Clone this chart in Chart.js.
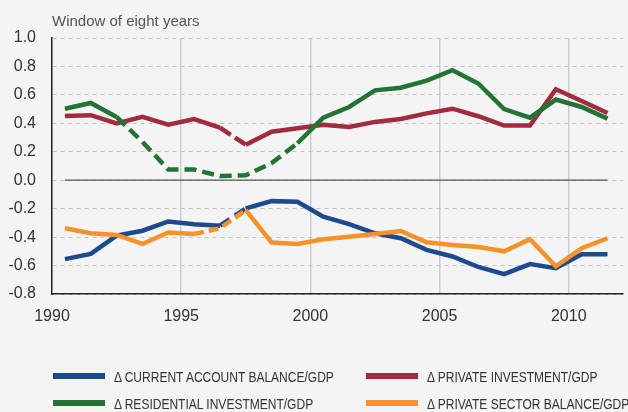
<!DOCTYPE html>
<html>
<head>
<meta charset="utf-8">
<script src="https://cdn.jsdelivr.net/npm/chart.js@4"></script>
<style>
  html, body { margin: 0; padding: 0; background: #f4f4f4; }
  #wrap { position: relative; width: 628px; height: 412px; }
  #chartBox { position: absolute; left: 0; top: 0; width: 628px; height: 330px; }
  #legend { position: absolute; left: 0; top: 0; width: 628px; height: 412px; pointer-events: none; }
  .item { position: absolute; display: flex; align-items: center; height: 20px;
          font-family: 'Liberation Sans', sans-serif;
          font-size: 15.5px; color: #333; white-space: nowrap; }
  .swatch { width: 52px; height: 6px; margin-right: 9px; margin-top: -2px; flex: none; }
  .txt { display: inline-block; transform: scaleX(0.775); transform-origin: left center; }
</style>
</head>
<body>
<div id="wrap">
  <div id="chartBox"><canvas id="balanceChart"></canvas></div>
  <div id="legend"></div>
</div>
<script>
// Data (mid-year points, window of eight years)
const years = [1990.5, 1991.5, 1992.5, 1993.5, 1994.5, 1995.5, 1996.5, 1997.5, 1998.5, 1999.5, 2000.5,
               2001.5, 2002.5, 2003.5, 2004.5, 2005.5, 2006.5, 2007.5, 2008.5, 2009.5, 2010.5, 2011.5];
const currentAccount = [-0.555, -0.518, -0.39, -0.355, -0.29, -0.31, -0.32, -0.198, -0.147, -0.152, -0.257,
                        -0.308, -0.373, -0.408, -0.49, -0.536, -0.61, -0.66, -0.59, -0.618, -0.52, -0.52];
const privateInvestment = [0.452, 0.457, 0.40, 0.445, 0.39, 0.43, 0.37, 0.25, 0.341, 0.365, 0.39,
                           0.375, 0.41, 0.43, 0.47, 0.503, 0.45, 0.384, 0.384, 0.64, 0.557, 0.473];
const residentialInvestment = [0.503, 0.543, 0.445, 0.27, 0.075, 0.075, 0.03, 0.035, 0.12, 0.26, 0.44,
                               0.515, 0.632, 0.65, 0.70, 0.773, 0.68, 0.50, 0.44, 0.567, 0.515, 0.433];
const privateSectorBalance = [-0.338, -0.373, -0.385, -0.448, -0.368, -0.378, -0.338, -0.21, -0.438, -0.448, -0.415,
                              -0.397, -0.378, -0.357, -0.436, -0.455, -0.47, -0.50, -0.415, -0.606, -0.478, -0.408];
const xTicks = [1990, 1995, 2000, 2005, 2010];

// segments (by start index) drawn dashed in the original
const dashedCA = [6];
const dashedPI = [6];
const dashedRI = [2, 3, 4, 5, 6, 7, 8];
const dashedPSB = [5, 6];

function pts(vals) {
    return vals.map((v, i) => ({ x: years[i], y: v }));
}

function series(label, vals, color, dashIdx, dash, order) {
    return {
        label: label,
        data: pts(vals),
        borderColor: color,
        backgroundColor: color,
        borderWidth: 4.5,
        pointRadius: 0,
        tension: 0,
        borderCapStyle: 'butt',
        order: order,
        segment: {
            borderDash: ctx => dashIdx.includes(ctx.p0DataIndex) ? dash : undefined
        }
    };
}

const datasets = [
    series('\u0394 CURRENT ACCOUNT BALANCE/GDP', currentAccount, '#1d4a8f', dashedCA, [12, 6], 3),
    series('\u0394 PRIVATE INVESTMENT/GDP', privateInvestment, '#a22b3f', dashedPI, [13, 5], 2),
    series('\u0394 RESIDENTIAL INVESTMENT/GDP', residentialInvestment, '#237236', dashedRI, [12, 6], 1),
    series('\u0394 PRIVATE SECTOR BALANCE/GDP', privateSectorBalance, '#f5922a', dashedPSB, [10, 5], 0)
];

// zero reference line spanning the data
datasets.push({
    label: 'zero',
    data: [{ x: years[0], y: 0 }, { x: years[years.length - 1], y: 0 }],
    borderColor: '#555',
    borderWidth: 1.2,
    pointRadius: 0,
    order: 10
});

const chartTitle = {
    id: 'chartTitle',
    afterDraw(chart) {
        const c = chart.ctx;
        c.save();
        c.font = '15px "Liberation Sans", sans-serif';
        c.fillStyle = '#555';
        c.textAlign = 'left';
        c.textBaseline = 'alphabetic';
        c.fillText('Window of eight years', chart.chartArea.left, 26);
        c.restore();
    }
};

document.addEventListener('DOMContentLoaded', function() {
    Chart.defaults.font.family = '"Liberation Sans", sans-serif';

    const ctx = document.getElementById('balanceChart').getContext('2d');
    new Chart(ctx, {
        type: 'line',
        data: { datasets: datasets },
        plugins: [chartTitle],
        options: {
            responsive: true,
            maintainAspectRatio: false,
            animation: false,
            layout: { padding: { top: 38, right: 5, left: 0, bottom: 0 } },
            plugins: {
                legend: { display: false },
                tooltip: { enabled: false }
            },
            scales: {
                x: {
                    type: 'linear',
                    min: 1990,
                    max: 2012.1,
                    afterBuildTicks: s => { s.ticks = xTicks.map(v => ({ value: v })); },
                    afterFit: s => { s.height = 36; },
                    grid: {
                        drawTicks: false,
                        color: c => c.tick && c.tick.value === 1990 ? 'rgba(0,0,0,0)' : '#cdcdcd',
                        lineWidth: 1.5
                    },
                    border: { display: true, color: '#222', width: 1.5 },
                    ticks: {
                        padding: 13,
                        color: '#333',
                        font: { size: 16 },
                        callback: v => String(v)
                    }
                },
                y: {
                    min: -0.8,
                    max: 1.0,
                    afterFit: s => { s.width = 52; },
                    grid: {
                        drawTicks: false,
                        color: '#c4c4c4',
                        lineWidth: 1
                    },
                    border: { display: true, color: '#222', width: 1.5, dash: [4, 4] },
                    ticks: {
                        stepSize: 0.2,
                        padding: 16,
                        color: '#333',
                        font: { size: 16 },
                        callback: v => v.toFixed(1)
                    }
                }
            }
        }
    });

    // legend in two columns, like the original
    const legend = document.getElementById('legend');
    const cols = [53, 366];
    const rows = [367, 394];
    [0, 1, 2, 3].forEach(i => {
        const ds = datasets[i];
        const item = document.createElement('div');
        item.className = 'item';
        item.style.left = cols[i % 2] + 'px';
        item.style.top = rows[Math.floor(i / 2)] + 'px';
        item.innerHTML = '<span class="swatch" style="background:' + ds.borderColor + '"></span>' +
                         '<span class="txt">' + ds.label + '</span>';
        legend.appendChild(item);
    });
});
</script>
</body>
</html>
